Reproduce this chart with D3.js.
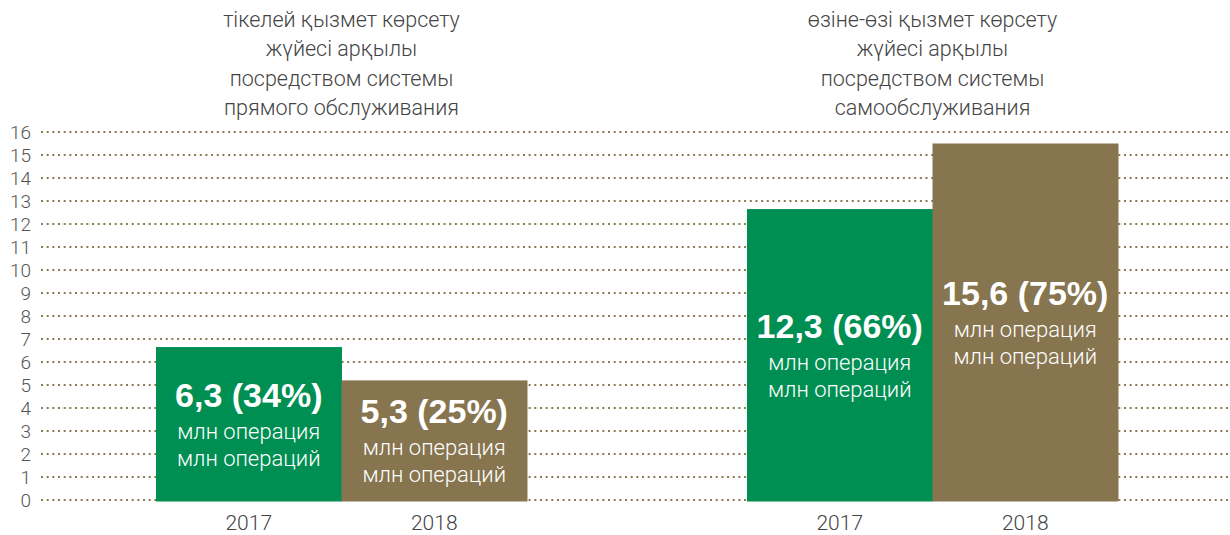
<!DOCTYPE html>
<html><head><meta charset="utf-8">
<script src="https://cdn.jsdelivr.net/npm/d3@7"></script>
<style>
html,body{margin:0;padding:0;background:#fff;}
svg{display:block;}
.light{font-family:Roboto,"Open Sans",sans-serif;font-weight:300;}
.bold{font-family:"Liberation Sans",Arial,sans-serif;font-weight:bold;}
</style></head>
<body>
<script>
const groups = ["direct", "self"];
const groupTitles = [
  ["тікелей қызмет көрсету", "жүйесі арқылы", "посредством системы", "прямого обслуживания"],
  ["өзіне-өзі қызмет көрсету", "жүйесі арқылы", "посредством системы", "самообслуживания"]
];
const years = ["2017", "2018"];
const barValues = [[6.65, 5.2], [12.65, 15.5]];
const barLabels = [["6,3 (34%)", "5,3 (25%)"], ["12,3 (66%)", "15,6 (75%)"]];
const unitLines = ["млн операция", "млн операций"];
const yTicks = d3.range(0, 17);
const colors = {"2017": "#008f53", "2018": "#87754f"};

const W = 1230, H = 535;
const svg = d3.select("body").append("svg").attr("width", W).attr("height", H);

const y = d3.scaleLinear().domain([0, 16]).range([500, 132]);
const x0 = d3.scaleBand().domain(groups).range([46, 1228]).padding(0);
const x1 = d3.scaleBand().domain(years).range([0, x0.bandwidth()]).paddingInner(0).paddingOuter(0.593);

const yAxis = d3.axisLeft(y).tickValues(yTicks).tickSize(0).tickPadding(0).tickFormat(d3.format("d"));
const ga = svg.append("g").attr("transform", "translate(31,0)").call(yAxis);
ga.select(".domain").remove();
ga.selectAll("text").attr("class", "light").attr("font-size", 19).attr("fill", "#555").attr("dy", "0.36em");

svg.append("g").selectAll("line").data(yTicks).join("line")
  .attr("x1", 41).attr("x2", W)
  .attr("y1", d => y(d)).attr("y2", d => y(d))
  .attr("stroke", "#8a7a55").attr("stroke-width", 2).attr("stroke-dasharray", "2 3.67");

const gg = svg.append("g").selectAll("g").data(groups).join("g")
  .attr("transform", d => `translate(${x0(d)},0)`);

gg.each(function(g, gi) {
  const sel = d3.select(this);
  const cx = x0.bandwidth() / 2;
  const t = sel.append("text").attr("class", "light").attr("font-size", 21.5).attr("fill", "#444")
    .attr("text-anchor", "middle");
  groupTitles[gi].forEach((line, li) => {
    t.append("tspan").attr("x", cx).attr("y", 27 + li * 29.3).text(line);
  });
  years.forEach((yr, yi) => {
    const v = barValues[gi][yi];
    const bx = x1(yr), bw = x1.bandwidth();
    sel.append("rect").attr("x", bx).attr("y", y(v)).attr("width", bw + 0.5).attr("height", y(0) - y(v) + 1.5)
      .attr("fill", colors[yr]);
    const mid = (y(v) + y(0)) / 2;
    const bc = bx + bw / 2;
    sel.append("text").attr("class", "bold").attr("font-size", 34).attr("fill", "#fff")
      .attr("text-anchor", "middle").attr("x", bc).attr("y", mid - 17).text(barLabels[gi][yi]);
    unitLines.forEach((u, ui) => {
      sel.append("text").attr("class", "light").attr("font-size", 22).attr("fill", "#fff")
        .attr("text-anchor", "middle").attr("x", bc).attr("y", mid + 15 + ui * 27).text(u);
    });
    sel.append("text").attr("class", "light").attr("font-size", 21).attr("fill", "#444")
      .attr("text-anchor", "middle").attr("x", bc).attr("y", 530).text(yr);
  });
});
</script>
</body></html>
